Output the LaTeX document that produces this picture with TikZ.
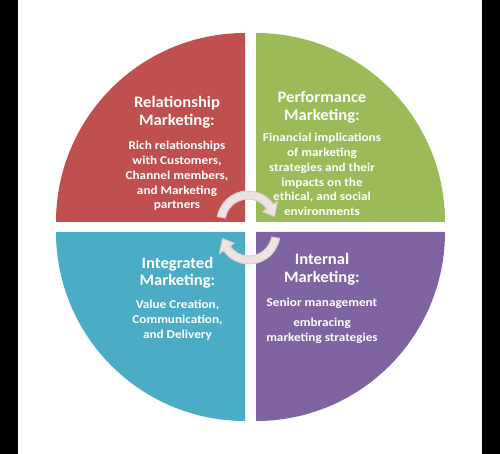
\documentclass[tikz,border=0pt]{standalone}
\usepackage{fontspec}
\setmainfont{Carlito}[BoldFont={Carlito Bold}]
\newfontfamily\headfont{Carlito Bold}[FakeStretch=1.04]
\newfontfamily\bodyfont{Carlito Bold}[FakeStretch=1.1]
\definecolor{qred}{HTML}{C0504D}
\definecolor{qgreen}{HTML}{9BBB59}
\definecolor{qblue}{HTML}{4BACC6}
\definecolor{qpurple}{HTML}{8064A2}
\definecolor{arrowfill}{HTML}{EEE2E2}
\definecolor{arrowline}{HTML}{D9CFCF}
\tikzset{
  head/.style={text=white,font=\headfont\fontsize{16}{17.5}\selectfont,align=center,inner sep=0pt},
  body/.style={text=white,font=\bodyfont\fontsize{12}{14.8}\selectfont,align=center,inner sep=0pt},
  cyc/.style={fill=arrowfill,draw=arrowline,line width=1pt,line join=round}
}
\begin{document}
\begin{tikzpicture}[x=1pt,y=1pt]
\useasboundingbox (0,0) rectangle (500,454);
\fill[white] (0,0) rectangle (500,454);
\fill[black] (0,0) rectangle (18,454);
\fill[black] (482,0) rectangle (500,454);
% quadrants
\fill[qred] (245,232) -- ++(-189,0) arc (180:90:189) -- cycle;
\fill[qgreen] (256,232) -- ++(0,189) arc (90:0:189) -- cycle;
\fill[qblue] (245,222) -- ++(0,-189) arc (270:180:189) -- cycle;
\fill[qpurple] (256,222) -- ++(189,0) arc (0:-90:189) -- cycle;
% texts
\node[head] (rh) at (177,342) {Relationship\\Marketing:};
\node[body,anchor=north] (rb) at (177,313) {Rich relationships\\with Customers,\\Channel members,\\and Marketing\\partners};
\node[head] (ph) at (322,346.5) {Performance\\Marketing:};
\node[body,anchor=north] (pb) at (322,321) {Financial implications\\of marketing\\strategies and their\\impacts on the\\ethical, and social\\environments};
\node[head] (ih) at (177.5,181.5) {Integrated\\Marketing:};
\node[body,anchor=north] (ib) at (177.5,154) {Value Creation,\\Communication,\\and Delivery};
\node[head] (nh) at (322,185) {Internal\\Marketing:};
\node[body] (nb1) at (322,151) {Senior management};
\node[body] (nb2) at (322,123) {embracing\\marketing strategies};
% cycle arrows
\coordinate (c1) at (248,232);
\coordinate (c2) at (249,221);
\path[cyc] ([shift={(c1)}]170:31) arc (170:35:31) -- ([shift={(c1)}]35:36) -- ([shift={(c1)}]12:27) -- ([shift={(c1)}]35:18) -- ([shift={(c1)}]35:23) arc (35:170:23) -- cycle;
\path[cyc] ([shift={(c2)}]-10:31) arc (-10:-145:31) -- ([shift={(c2)}]-145:36) -- ([shift={(c2)}]-168:27) -- ([shift={(c2)}]-145:18) -- ([shift={(c2)}]-145:23) arc (-145:-10:23) -- cycle;
\end{tikzpicture}
\end{document}
